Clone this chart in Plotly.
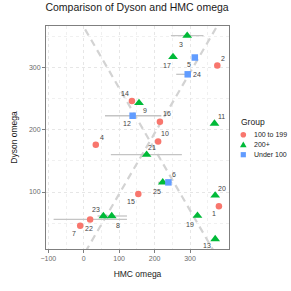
import plotly.graph_objects as go

ids    = [1, 2, 3, 4, 5, 6, 7, 8, 9, 10, 11, 12, 13, 14, 15, 16, 17, 19, 20, 21, 22, 23, 24, 25]
groups = ["100 to 199", "100 to 199", "200+", "100 to 199", "Under 100", "Under 100", "100 to 199",
          "200+", "200+", "100 to 199", "200+", "Under 100", "200+", "100 to 199", "100 to 199",
          "100 to 199", "200+", "200+", "200+", "200+", "100 to 199", "200+", "Under 100", "200+"]
hmc    = [381.5, 377, 292, 34, 313.5, 239, -10, 79, 156, 210, 369, 138, 371, 136, 154,
          215, 252, 321, 371, 177.5, 18, 55.5, 293.5, 223]
dyson  = [77, 303, 351, 176, 316, 115.5, 46, 61.5, 243, 181, 210, 222.5, 24.5, 246, 97,
          213, 317, 62, 94.5, 160, 56, 61.5, 289, 115.5]
hmc_lo = [None, None, 246, None, None, 210, None, 39, None, None, None, 60, None, None, None,
          None, None, None, None, 76.5, -85, None, 261, None]
hmc_hi = [None, None, 338, None, None, 248, None, 122, None, None, None, 219, None, None, None,
          None, None, None, None, 277, 122, None, 302, None]
# label offsets in pixels (dx, dy screen-down)
lab_dx = [-5, 6, -6, 6, -6, 6, -6, 6, 6, 7, 7, -6, -8, -7, -7, 7, -6, -7, 7, 5, -1, -7, 9, -6]
lab_dy = [7, -7, 9, -7, 7, -8, 8, 9, 8, -8, -7, 8, 6, -8, 8, -8, 9, 9, -7, -7, 9, -7, 0, 9]

ref_slopes = [0.975, -0.981]
ref_intercepts = [-0.6, 365]

group_order = ["100 to 199", "200+", "Under 100"]
colors = {"100 to 199": "#F8766D", "200+": "#00BA38", "Under 100": "#619CFF"}
symbols = {"100 to 199": "circle", "200+": "triangle-up", "Under 100": "square"}
sizes = {"100 to 199": 6.5, "200+": 8.5, "Under 100": 6.5}

xr = [-106.5, 410]
yr = [8.5, 366.6]

FONT = "Liberation Sans"
fig = go.Figure()

# reference dashed lines
for s, b in zip(ref_slopes, ref_intercepts):
    xs = [-200, 500]
    fig.add_trace(go.Scatter(x=xs, y=[b + s * v for v in xs], mode="lines",
                             line=dict(color="#D3D3D3", width=2.2, dash="7px,5px"),
                             showlegend=False, hoverinfo="skip"))

# error bars
for i in range(len(ids)):
    if hmc_lo[i] is not None:
        fig.add_trace(go.Scatter(x=[hmc_lo[i], hmc_hi[i]], y=[dyson[i], dyson[i]], mode="lines",
                                 line=dict(color="#C4C4C4", width=1.3),
                                 showlegend=False, hoverinfo="skip"))

for g in group_order:
    idx = [i for i in range(len(ids)) if groups[i] == g]
    fig.add_trace(go.Scatter(
        x=[hmc[i] for i in idx], y=[dyson[i] for i in idx], mode="markers", name=g,
        showlegend=False,
        marker=dict(color=colors[g], symbol=symbols[g], size=sizes[g], line=dict(width=0))))

for i in range(len(ids)):
    fig.add_annotation(x=hmc[i], y=dyson[i], text=str(ids[i]), showarrow=False,
                       xshift=lab_dx[i], yshift=-lab_dy[i],
                       font=dict(size=7, color="#444444", family=FONT))

# custom compact legend (paper coords, pixel-sized keys)
L, B, W, H = 46, 249, 183, 223
def px2paper(px, py):
    return (px - L) / W, (B - py) / H

tx, ty = px2paper(238.5, 121.5)
fig.add_annotation(x=tx, y=ty, xref="paper", yref="paper", text="Group", showarrow=False,
                   xanchor="left", yanchor="middle", font=dict(size=8.5, color="#1A1A1A", family=FONT))
item_y = [134.7, 144.7, 154.7]
for g, py in zip(group_order, item_y):
    mx, my = px2paper(243.3, py)
    lx, _ = px2paper(252, py)
    fig.add_annotation(x=lx, y=my, xref="paper", yref="paper", text=g, showarrow=False,
                       xanchor="left", yanchor="middle", font=dict(size=7, color="#1A1A1A", family=FONT))
    common = dict(xref="paper", yref="paper", xsizemode="pixel", ysizemode="pixel",
                  xanchor=mx, yanchor=my, fillcolor=colors[g], line=dict(width=0))
    if symbols[g] == "circle":
        fig.add_shape(type="circle", x0=-2.8, x1=2.8, y0=-2.8, y1=2.8, **common)
    elif symbols[g] == "square":
        fig.add_shape(type="rect", x0=-2.6, x1=2.6, y0=-2.6, y1=2.6, **common)
    else:
        fig.add_shape(type="path", path="M -3.3 -2.6 L 3.3 -2.6 L 0 3.2 Z", **common)

axis_common = dict(showline=True, linecolor="#7F7F7F", linewidth=1, mirror=True,
                   ticks="outside", ticklen=3, tickcolor="#7F7F7F", tickwidth=1,
                   tickfont=dict(size=7, color="#6B6B6B", family=FONT),
                   showgrid=True, gridcolor="#E6E6E6", gridwidth=1, griddash="dot",
                   zeroline=False, automargin=False)

fig.update_layout(
    width=291, height=291,
    margin=dict(l=L, r=291 - L - W, t=B - H, b=291 - B, autoexpand=False),
    paper_bgcolor="white", plot_bgcolor="white",
    showlegend=False,
    title=dict(text="Comparison of Dyson and HMC omega", x=0.471, xanchor="center",
               y=0.975, yanchor="middle",
               font=dict(size=10.5, color="#1A1A1A", family=FONT)),
    xaxis=dict(range=xr, tickvals=[-100, 0, 100, 200, 300],
               ticktext=["\u2212100", "0", "100", "200", "300"],
               minor=dict(tickvals=[-50, 50, 150, 250, 350], showgrid=True,
                          gridcolor="#F0F0F0", griddash="dot", ticks=""),
               title=dict(text="HMC omega", standoff=9,
                          font=dict(size=8.5, color="#1A1A1A", family=FONT)),
               **axis_common),
    yaxis=dict(range=yr, tickvals=[100, 200, 300],
               minor=dict(tickvals=[50, 150, 250, 350], showgrid=True,
                          gridcolor="#F0F0F0", griddash="dot", ticks=""),
               title=dict(text="Dyson omega", standoff=9,
                          font=dict(size=8.5, color="#1A1A1A", family=FONT)),
               **axis_common),
)

fig.write_html("out.html",
               config={"displayModeBar": False},
               post_script="document.body.style.margin='0';document.body.style.padding='0';")
